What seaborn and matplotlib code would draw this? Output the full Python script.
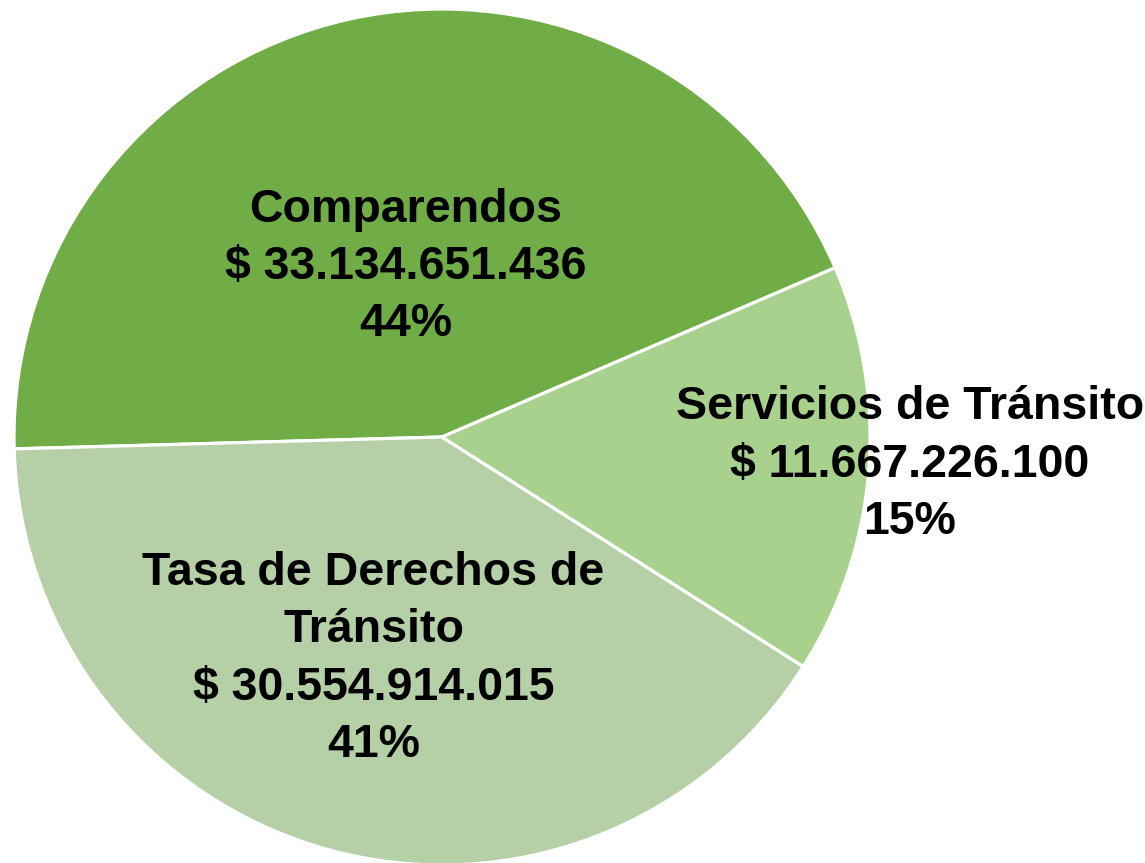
import numpy as np
import matplotlib
matplotlib.use("Agg")
import matplotlib.pyplot as plt
import seaborn as sns

# ---- data ----
categories = ["Comparendos", "Tasa de Derechos de\nTránsito", "Servicios de Tránsito"]
values = [33134651436, 30554914015, 11667226100]
colors = ["#70AD47", "#B5CFA7", "#A9D18E"]

sns.set_theme(style="white")
plt.rcParams["font.family"] = ["Liberation Sans", "DejaVu Sans"]

W, H = 1145, 863
fig = plt.figure(figsize=(W / 100, H / 100), dpi=100)
ax = fig.add_axes([0, 0, 1, 1])

cx, cy, R = 442, H - 437, 428
wedges, _ = ax.pie(values, colors=colors, startangle=23.3, counterclock=True,
                   center=(cx, cy), radius=R, frame=True,
                   wedgeprops=dict(edgecolor="white", linewidth=2.3))
ax.set_xlim(0, W)
ax.set_ylim(0, H)
ax.set_aspect("equal")
ax.axis("off")

total = sum(values)
label_r = [0.406, 0.543, 1.095]
label_dang = [-0.4, -1.7, 1.2]
for w, cat, v, lr, da in zip(wedges, categories, values, label_r, label_dang):
    mid = np.deg2rad((w.theta1 + w.theta2) / 2 + da)
    x = cx + lr * R * np.cos(mid)
    y = cy + lr * R * np.sin(mid)
    money = "$ " + f"{v:,}".replace(",", ".")
    pct = f"{round(100 * v / total):d}%"
    ax.text(x, y, f"{cat}\n{money}\n{pct}", ha="center", va="center",
            fontsize=33.5, fontweight="bold", color="black", linespacing=1.39)

fig.savefig("out.png", dpi=100)
